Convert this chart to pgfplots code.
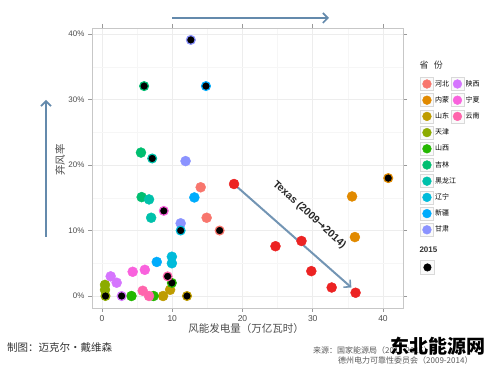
\documentclass[border=0pt]{standalone}
\usepackage{fontspec}
\setmainfont{Liberation Sans}
\newfontfamily\cjk{Noto Sans CJK SC}
\newfontfamily\djv{DejaVu Sans}
\usepackage{pgfplots}
\pgfplotsset{compat=1.18}
\usetikzlibrary{arrows.meta}
\definecolor{cHB}{HTML}{F8766D}
\definecolor{cNM}{HTML}{E18A00}
\definecolor{cSD}{HTML}{BE9C00}
\definecolor{cTJ}{HTML}{8CAB00}
\definecolor{cSX}{HTML}{24B700}
\definecolor{cJL}{HTML}{00BE70}
\definecolor{cHLJ}{HTML}{00C1AB}
\definecolor{cLN}{HTML}{00BBDA}
\definecolor{cXJ}{HTML}{00ACFC}
\definecolor{cGS}{HTML}{8B93FF}
\definecolor{cSaX}{HTML}{D575FE}
\definecolor{cNX}{HTML}{F962DD}
\definecolor{cYN}{HTML}{FF65AC}
\definecolor{cTX}{HTML}{EC2323}
\definecolor{arrowc}{RGB}{100,138,172}
\pgfplotsset{
  prov/.style={only marks, mark=*, mark size=5pt, color=#1, mark options={draw=none}},
  blk/.style={only marks, mark=*, mark size=4.4pt, forget plot, mark options={fill=black, draw=#1, line width=1.2pt}},
}
\begin{document}
\begin{tikzpicture}[x=1pt,y=1pt]
\useasboundingbox (0,0) rectangle (500,369);
\begin{axis}[
  at={(92pt,61pt)}, anchor=south west, scale only axis,
  width=311pt, height=280pt,
  xmin=-1.42, xmax=42.85, ymin=-1.83, ymax=40.92,
  xtick={0,10,20,30,40}, xticklabels={0,10,20,30,40},
  ytick={0,10,20,30,40}, yticklabels={0\%,10\%,20\%,30\%,40\%},
  minor xtick={5,15,25,35}, minor ytick={5,15,25,35},
  grid=both,
  major grid style={draw=black!7, line width=0.6pt},
  minor grid style={draw=black!3.5, line width=0.4pt},
  axis line style={draw=black!22, line width=0.7pt},
  tick align=outside, major tick length=4pt, minor tick length=0pt,
  tick style={draw=black!40, line width=0.6pt},
  xticklabel style={font=\fontsize{8.5}{10}\selectfont, text=black!70},
  yticklabel style={font=\fontsize{8}{10}\selectfont, text=black!70},
  legend columns=2,
  legend style={at={(axis description cs:1.045,0.832)}, anchor=north west,
    draw=none, fill=none, font=\cjk\fontsize{7}{8}\selectfont,
    row sep=2.7pt, column sep=1pt, nodes={inner sep=0.5pt}},
  legend cell align=left,
  legend image code/.code={
    \draw[draw=black!15, fill=black!2, line width=0.5pt, mark=none] (0pt,-6.5pt) rectangle (13pt,6.5pt);
    \draw[#1, mark size=4.4pt] plot coordinates {(6.5pt,0pt)};
  },
]
\addplot[prov=cHB, forget plot] coordinates {(14.05,16.6) (14.9,11.95)};
\addplot[prov=cNM, forget plot] coordinates {(35.6,15.2) (36.0,9.0)};
\addplot[prov=cSD, forget plot] coordinates {(9.7,0.95) (8.7,0)};
\addplot[prov=cTJ, forget plot] coordinates {(0.43,1.7) (0.43,0.95)};
\addplot[prov=cSX, forget plot] coordinates {(4.2,0) (7.35,0)};
\addplot[prov=cJL, forget plot] coordinates {(5.55,21.9) (5.65,15.1)};
\addplot[prov=cHLJ, forget plot] coordinates {(6.7,14.75) (7.0,11.95)};
\addplot[prov=cLN, forget plot] coordinates {(9.95,6.0) (9.95,5.0)};
\addplot[prov=cXJ, forget plot] coordinates {(13.15,15.05) (7.8,5.2)};
\addplot[prov=cGS, forget plot] coordinates {(11.9,20.6) (11.2,11.1)};
\addplot[prov=cSaX, forget plot] coordinates {(1.24,3.0) (2.09,2.03)};
\addplot[prov=cNX, forget plot] coordinates {(4.37,3.7) (6.1,4.0)};
\addplot[prov=cYN, forget plot] coordinates {(5.8,0.8) (6.7,0)};
% 2015
\addplot[blk=cHB] coordinates {(16.75,10.0)};
\addplot[blk=cNM] coordinates {(40.75,18.0)};
\addplot[blk=cSD] coordinates {(12.1,0)};
\addplot[blk=cTJ] coordinates {(0.5,0)};
\addplot[blk=cSX] coordinates {(9.95,2.0)};
\addplot[blk=cJL] coordinates {(6.0,32.05)};
\addplot[blk=cHLJ] coordinates {(7.15,21.0)};
\addplot[blk=cLN] coordinates {(11.2,10.0)};
\addplot[blk=cXJ] coordinates {(14.8,32.05)};
\addplot[blk=cGS] coordinates {(12.65,39.1)};
\addplot[blk=cSaX] coordinates {(2.8,0)};
\addplot[blk=cNX] coordinates {(8.8,13.0)};
\addplot[blk=cYN] coordinates {(9.35,3.0)};
% Texas
\addplot[prov=cTX, forget plot] coordinates {(18.8,17.1) (24.7,7.6) (28.4,8.4) (29.8,3.8) (32.7,1.3) (36.1,0.5)};
% legend (column-major order laid out row by row)
\addlegendimage{prov=cHB}\addlegendentry{河北}
\addlegendimage{prov=cSaX}\addlegendentry{陕西}
\addlegendimage{prov=cNM}\addlegendentry{内蒙}
\addlegendimage{prov=cNX}\addlegendentry{宁夏}
\addlegendimage{prov=cSD}\addlegendentry{山东}
\addlegendimage{prov=cYN}\addlegendentry{云南}
\addlegendimage{prov=cTJ}\addlegendentry{天津}
\addlegendimage{empty legend}\addlegendentry{}
\addlegendimage{prov=cSX}\addlegendentry{山西}
\addlegendimage{empty legend}\addlegendentry{}
\addlegendimage{prov=cJL}\addlegendentry{吉林}
\addlegendimage{empty legend}\addlegendentry{}
\addlegendimage{prov=cHLJ}\addlegendentry{\makebox[14pt][l]{黑龙江}}
\addlegendimage{empty legend}\addlegendentry{}
\addlegendimage{prov=cLN}\addlegendentry{辽宁}
\addlegendimage{empty legend}\addlegendentry{}
\addlegendimage{prov=cXJ}\addlegendentry{新疆}
\addlegendimage{empty legend}\addlegendentry{}
\addlegendimage{prov=cGS}\addlegendentry{甘肃}
\draw[arrowc, line width=2pt, opacity=0.9, -{Straight Barb[length=5pt,width=10pt,line width=1.6pt]}]
  (axis cs:19.3,16.6) -- (axis cs:35.5,1.3);
\node[rotate=-42, font=\bfseries\fontsize{10.5}{12}\selectfont, text=black!85] at (axis cs:29.5,12.4) {Texas (2009{\djv\bfseries →}2014)};
\end{axis}
% 2015 legend
\begin{axis}[hide axis, scale only axis, width=10pt, height=10pt,
  at={(417pt,101pt)}, anchor=south west, xmin=0, xmax=1, ymin=0, ymax=1,
  legend style={at={(axis description cs:0,1)}, anchor=north west, draw=none, fill=none, nodes={inner sep=0pt}},
  legend image code/.code={
    \draw[draw=black!15, fill=black!2, line width=0.5pt, mark=none] (0pt,-7pt) rectangle (14pt,7pt);
    \draw[#1, mark size=3.8pt] plot coordinates {(7pt,0pt)};
  }]
\addlegendimage{only marks, mark=*, black}
\addlegendentry{}
\end{axis}
% titles and annotations
\node[font=\cjk\fontsize{9}{10}\selectfont, text=black!80, anchor=west] at (416,304) {省\hspace{0.6em}份};
\node[font=\bfseries\fontsize{8}{10}\selectfont, text=black!80, anchor=west] at (416,119) {2015};
\draw[arrowc, line width=2pt, -{Straight Barb[length=5pt,width=10pt,line width=1.6pt]}] (172,351) -- (329,351);
\draw[arrowc, line width=2pt, -{Straight Barb[length=5pt,width=10pt,line width=1.6pt]}] (46,132) -- (46,269);
\node[font=\cjk\fontsize{10.5}{12}\selectfont, text=black!70, rotate=90] at (60,209) {弃风率};
\node[font=\cjk\fontsize{10.5}{12}\selectfont, text=black!70] at (246,40) {风能发电量（万亿瓦时）};
\node[font=\cjk\fontsize{10.5}{12}\selectfont, text=black!80, anchor=west, inner sep=0pt] at (7,21) {制图：迈克尔·戴维森};
\node[font=\cjk\fontsize{8}{9}\selectfont, text=black!65, anchor=west, inner sep=0pt] at (313,19) {来源：国家能源局（2011-2015）};
\node[font=\cjk\fontsize{8}{9}\selectfont, text=black!65, anchor=west, inner sep=0pt] at (338,8.5) {德州电力可靠性委员会（2009-2014）};
\node[font=\cjk\bfseries\fontsize{19}{20}\selectfont, text=black, anchor=center, inner sep=0pt] at (438,23) {东北能源网};
\end{tikzpicture}
\end{document}
